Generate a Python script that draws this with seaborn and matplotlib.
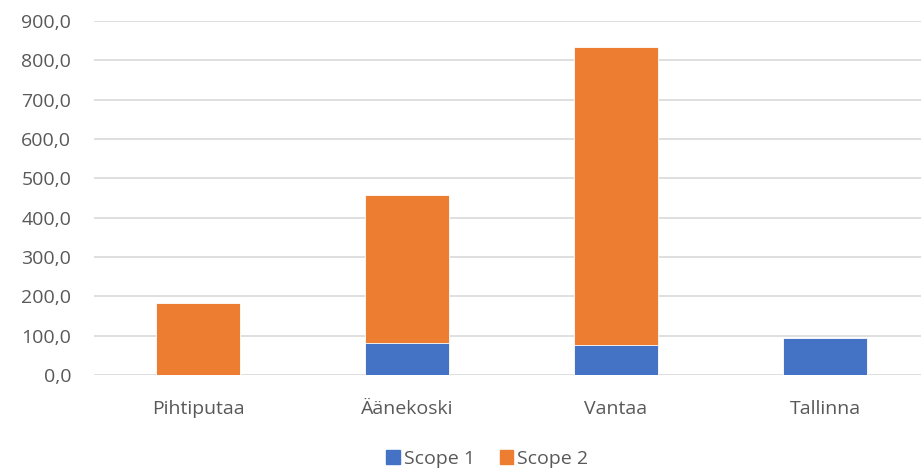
import matplotlib
matplotlib.use("Agg")
import matplotlib.pyplot as plt
import seaborn as sns
import pandas as pd
from matplotlib.ticker import FuncFormatter, MultipleLocator
from matplotlib.patches import Patch

categories = ["Pihtiputaa", "Äänekoski", "Vantaa", "Tallinna"]
scope1 = [0.0, 81.0, 77.0, 95.0]
scope2 = [182.0, 377.0, 758.0, 0.0]

sns.set_theme(style="white")
plt.rcParams["font.family"] = ["Open Sans", "DejaVu Sans"]

df = pd.DataFrame({"category": categories, "scope1": scope1, "scope2": scope2})
df["total"] = df["scope1"] + df["scope2"]

fig = plt.figure(figsize=(9.21, 4.70), dpi=100)
ax = fig.add_axes([93.5 / 921, (470 - 375) / 470, 836 / 921, 354 / 470])

blue = "#4472C4"
orange = "#ED7D31"

sns.barplot(data=df, x="category", y="total", color=orange, width=0.4,
            saturation=1, ax=ax, edgecolor="white", linewidth=0.6)
sns.barplot(data=df, x="category", y="scope1", color=blue, width=0.4,
            saturation=1, ax=ax, edgecolor="white", linewidth=0.6)

ax.set_ylim(0, 900)
ax.yaxis.set_major_locator(MultipleLocator(100))
ax.yaxis.set_major_formatter(FuncFormatter(lambda v, p: f"{v:.1f}".replace(".", ",")))
ax.grid(axis="y", color="#D9D9D9", linewidth=1.2)
ax.set_axisbelow(True)
for s in ax.spines.values():
    s.set_visible(False)
ax.set_xlabel("")
ax.set_ylabel("")
ax.tick_params(axis="both", length=0, labelsize=14, colors="#595959")
ax.tick_params(axis="y", pad=16)
ax.tick_params(axis="x", pad=18)

handles = [Patch(color=blue, label="Scope 1"), Patch(color=orange, label="Scope 2")]
leg = fig.legend(handles=handles, loc="center", bbox_to_anchor=(0.529, 1 - 459 / 470),
                 ncol=2, frameon=False, fontsize=14, handlelength=0.7, handleheight=0.7,
                 handletextpad=0.2, columnspacing=1.3, borderpad=0)
for t in leg.get_texts():
    t.set_color("#595959")

fig.savefig("out.png", dpi=100)
